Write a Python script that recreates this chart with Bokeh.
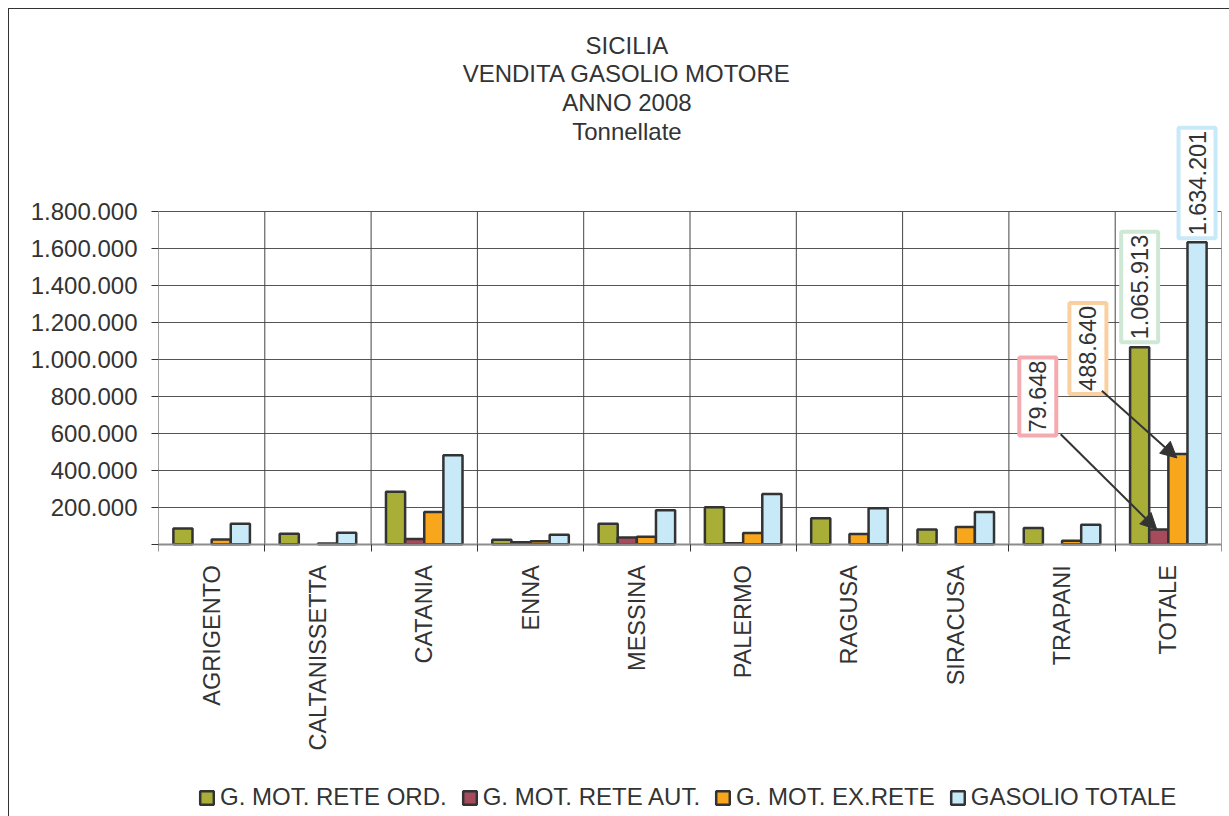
import numpy as np
from bokeh.plotting import figure
from bokeh.layouts import column, row
from bokeh.models import (ColumnDataSource, FixedTicker, Legend, LegendItem, Label,
                          Arrow, NormalHead, Range1d, Spacer)
from bokeh.embed import file_html
from bokeh.resources import INLINE

# ---------------- data ----------------
categories = ["AGRIGENTO", "CALTANISSETTA", "CATANIA", "ENNA", "MESSINA",
              "PALERMO", "RAGUSA", "SIRACUSA", "TRAPANI", "TOTALE"]
rete_ord = [85400, 56000, 283600, 23600, 111000, 200000, 140000, 80000, 87000, 1065913]
rete_aut = [0, 0, 28000, 11000, 36000, 5000, 0, 0, 0, 79648]
ex_rete = [25500, 4000, 174000, 16000, 40000, 60000, 54500, 92700, 19000, 488640]
gasolio_tot = [111000, 62000, 482000, 51000, 183000, 272000, 194500, 174000, 105000, 1634201]
series_names = ["G. MOT. RETE ORD.", "G. MOT. RETE AUT.", "G. MOT. EX.RETE", "GASOLIO TOTALE"]
y_ticks = [0, 200000, 400000, 600000, 800000, 1000000, 1200000, 1400000, 1600000, 1800000]
y_tick_labels = ["", "200.000", "400.000", "600.000", "800.000", "1.000.000",
                 "1.200.000", "1.400.000", "1.600.000", "1.800.000"]
title_lines = ["SICILIA", "VENDITA GASOLIO MOTORE", "ANNO 2008", "Tonnellate"]

# ---------------- style ----------------
FONT = "Liberation Sans"
FS = "23.5px"
FS_T = "24px"
TXT = "#333333"
colors = ["#A8AE36", "#A54B5C", "#F8A61C", "#C7E9F8"]
box_colors = ["#CFE8D6", "#F5AAB0", "#FBD0A0", "#C7E9F8"]
offsets = [-0.27, -0.09, 0.09, 0.27]
BAR_W = 0.18

FL, FW = 149, 1062          # frame left / width (px)
FH = 807                    # frame covers the whole canvas height
ZERO_PX = 273               # pixels from frame bottom up to the value 0
PLOT_PX = 332               # pixel height of the value area (0 .. YMAX)
YMAX = 1800000
NCAT = len(categories)

def px_x(px):
    return px / FW * NCAT

def px_y(px):
    return px / PLOT_PX * YMAX

p = figure(frame_width=FW, frame_height=FH, output_backend="svg", toolbar_location=None,
           x_range=Range1d(0, NCAT), y_range=Range1d(-px_y(ZERO_PX), px_y(FH - ZERO_PX)),
           min_border_left=FL, min_border_right=9,
           min_border_top=0, min_border_bottom=0,
           background_fill_color="white", border_fill_color="white",
           styles={"border-left": "1px solid #333", "border-top": "1px solid #333"})
p.outline_line_color = None

idx = np.arange(NCAT)
centers = idx + 0.5
bounds = np.arange(NCAT + 1)
series = [rete_ord, rete_aut, ex_rete, gasolio_tot]

# category separators (vertical lines of the value area)
p.segment(x0=bounds, y0=0, x1=bounds, y1=YMAX, line_color="#444444", line_width=1)

renderers = []
for s, vals, col, off in zip(series_names, series, colors, offsets):
    tops = [v if v > 0 else np.nan for v in vals]
    src = ColumnDataSource(dict(x=centers + off, top=tops))
    r = p.vbar(x="x", top="top", bottom=0, width=BAR_W, source=src,
               fill_color=col, line_color="#333333", line_width=2.5)
    renderers.append(r)

# axes
p.yaxis.ticker = FixedTicker(ticks=y_ticks)
p.yaxis.major_label_overrides = {t: l for t, l in zip(y_ticks, y_tick_labels)}
p.yaxis.major_tick_out = 7
p.yaxis.major_tick_in = 0
p.yaxis.minor_tick_line_color = None
p.yaxis.axis_line_color = None
p.yaxis.major_tick_line_color = "#333333"
p.yaxis.major_label_standoff = 14
p.yaxis.major_label_text_font = FONT
p.yaxis.major_label_text_font_size = FS_T
p.yaxis.major_label_text_color = TXT

p.xaxis.fixed_location = 0
p.xaxis.ticker = FixedTicker(ticks=list(centers), minor_ticks=list(bounds))
p.xaxis.major_label_overrides = {float(c): n for c, n in zip(centers, categories)}
p.xaxis.major_label_orientation = np.pi / 2
p.xaxis.major_tick_line_color = None
p.xaxis.major_tick_out = 0
p.xaxis.major_tick_in = 0
p.xaxis.minor_tick_out = 7
p.xaxis.minor_tick_in = 0
p.xaxis.minor_tick_line_color = "#333333"
p.xaxis.axis_line_color = "#8C8C8C"
p.xaxis.axis_line_width = 2
p.xaxis.major_label_standoff = 14
p.xaxis.major_label_text_font = FONT
p.xaxis.major_label_text_font_size = FS
p.xaxis.major_label_text_color = TXT

p.xgrid.grid_line_color = None
p.ygrid.ticker = FixedTicker(ticks=y_ticks)
p.ygrid.grid_line_color = "#555555"

# title lines (positions in screen pixels converted to data units)
title_x = px_x(468)
for i, line in enumerate(title_lines):
    base_px = 498.5 - i * 28.7  # pixels above the x axis
    p.add_layout(Label(x=title_x, y=px_y(base_px), text=line, text_align="center",
                       text_baseline="alphabetic", text_font=FONT, text_font_size=FS_T,
                       text_color=TXT))

# data labels for TOTALE
tot = NCAT - 1
label_specs = [
    # series index, dx px, dy px
    (0, 0, 5),
    (1, -121, 94),
    (2, -90, 60),
    (3, 0, 4),
]
for si, dxp, dyp in label_specs:
    v = series[si][tot]
    bx = centers[tot] + offsets[si]
    txt = f"{v:,}".replace(",", ".")
    p.add_layout(Label(x=bx, y=v, x_offset=dxp, y_offset=dyp, text=txt, angle=np.pi / 2,
                       text_align="left", text_baseline="middle", text_font=FONT,
                       text_font_size=FS, text_color=TXT,
                       border_line_color=box_colors[si], border_line_width=4,
                       background_fill_color="white",
                       padding=dict(left=3, right=3, top=10, bottom=10)))

# leader arrows
arrow_specs = [
    (1, -98, 95, -2, 0),
    (2, -76, 63, -1, -4),
]
for si, sdx, sdy, edx, edy in arrow_specs:
    v = series[si][tot]
    bx = centers[tot] + offsets[si]
    p.add_layout(Arrow(end=NormalHead(size=16, fill_color="#333333", line_color="#333333"),
                       x_start=bx + px_x(sdx), y_start=v + px_y(sdy),
                       x_end=bx + px_x(edx), y_end=v + px_y(edy),
                       line_color="#333333", line_width=2))

# legend (inside the tall frame, below the category labels)
legend = Legend(items=[LegendItem(label=n, renderers=[r]) for n, r in zip(series_names, renderers)],
                orientation="horizontal", location=(40, 6),
                glyph_width=17, glyph_height=17, label_standoff=5, spacing=14,
                padding=0, margin=0, border_line_color=None, background_fill_alpha=0,
                label_text_font=FONT, label_text_font_size="24px", label_text_color=TXT)
p.add_layout(legend, "center")

page = column(Spacer(height=8), row(Spacer(width=8), p))
open("out.html", "w").write(file_html(page, INLINE))
